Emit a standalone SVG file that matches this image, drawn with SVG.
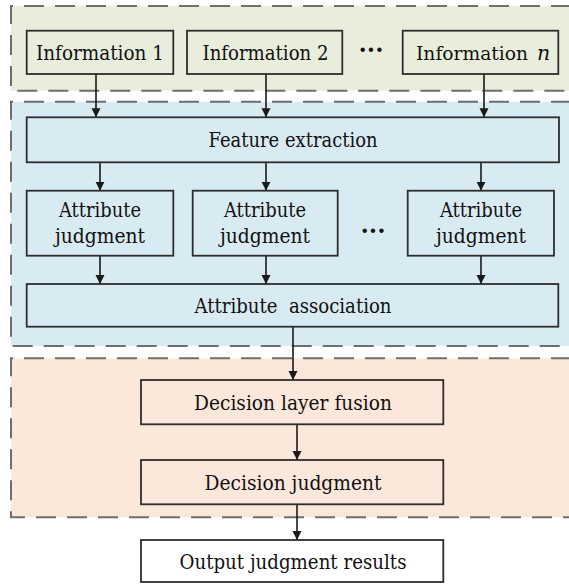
<svg xmlns="http://www.w3.org/2000/svg" width="569" height="584" viewBox="0 0 569 584">
  <defs>
    <marker id="arrow" markerUnits="userSpaceOnUse" markerWidth="9" markerHeight="10" viewBox="0 0 9 10" refX="9" refY="5" orient="auto">
      <path d="M0,0.5 L9,5 L0,9.5 Z" fill="#1a1a1a"/>
    </marker>
  </defs>
  <style>
    .zone-border { fill: none; stroke: #6e6e6e; stroke-width: 2; stroke-dasharray: 20 11; }
    .box { stroke: #2e2e2e; stroke-width: 1.8; }
    .green { fill: #e9eddb; }
    .blue { fill: #d9ebf2; }
    .orange { fill: #fce8db; }
    .white { fill: #ffffff; }
    text { font-family: 'DejaVu Serif', 'Liberation Serif', serif; }
    .label { font-size: 20.5px; fill: #111111; text-anchor: middle; }
    .dots { font-size: 24px; font-weight: bold; fill: #111111; text-anchor: middle; }
    .conn { fill: none; stroke: #1a1a1a; stroke-width: 1.6; marker-end: url(#arrow); }
  </style>

  <!-- Background zones -->
  <g id="zone-input">
    <rect x="11" y="6" width="560" height="84.7" class="green"/>
    <path d="M571,6 H11 V90.7 H571" class="zone-border"/>
  </g>
  <g id="zone-feature">
    <rect x="11" y="101.7" width="560" height="244.3" class="blue"/>
    <path d="M571,101.7 H11 V346 H571" class="zone-border"/>
  </g>
  <g id="zone-decision">
    <rect x="11" y="358.3" width="560" height="159" class="orange"/>
    <path d="M571,358.3 H11 V517.3 H571" class="zone-border"/>
  </g>

  <!-- Connectors -->
  <g id="connectors">
    <line x1="96" y1="74" x2="96" y2="117.3" class="conn"/>
    <line x1="266" y1="74" x2="266" y2="117.3" class="conn"/>
    <line x1="484" y1="74" x2="484" y2="117.3" class="conn"/>
    <line x1="100" y1="162.3" x2="100" y2="190.7" class="conn"/>
    <line x1="266" y1="162.3" x2="266" y2="190.7" class="conn"/>
    <line x1="481" y1="162.3" x2="481" y2="190.7" class="conn"/>
    <line x1="100" y1="255.7" x2="100" y2="284" class="conn"/>
    <line x1="266" y1="255.7" x2="266" y2="284" class="conn"/>
    <line x1="481" y1="255.7" x2="481" y2="284" class="conn"/>
    <line x1="293" y1="326.7" x2="293" y2="380" class="conn"/>
    <line x1="297" y1="424.3" x2="297" y2="460" class="conn"/>
    <line x1="297" y1="504.3" x2="297" y2="540" class="conn"/>
  </g>

  <!-- Input sources -->
  <g id="info-1">
    <rect x="26.7" y="30.7" width="146.6" height="43.3" class="box green"/>
    <text x="100" y="60" class="label" textLength="128" lengthAdjust="spacingAndGlyphs">Information 1</text>
  </g>
  <g id="info-2">
    <rect x="187" y="30.7" width="155.3" height="43.3" class="box green"/>
    <text x="265.5" y="60" class="label" textLength="126" lengthAdjust="spacingAndGlyphs">Information 2</text>
  </g>
  <g id="info-dots">
    <text x="371" y="58" class="dots">···</text>
  </g>
  <g id="info-n">
    <rect x="402.7" y="30.7" width="155.6" height="43.3" class="box green"/>
    <text x="416" y="60" class="label" style="text-anchor:start; font-size:18.6px" textLength="112" lengthAdjust="spacingAndGlyphs">Information</text>
    <text x="537" y="60" class="label" style="text-anchor:start" font-style="italic">n</text>
  </g>

  <!-- Feature layer -->
  <g id="feature-extraction">
    <rect x="26.7" y="117.3" width="532.3" height="45" class="box blue"/>
    <text x="293" y="147.4" class="label" textLength="169" lengthAdjust="spacingAndGlyphs">Feature extraction</text>
  </g>
  <g id="attr-judgment-1">
    <rect x="26.7" y="190.7" width="146.6" height="65" class="box blue"/>
    <text x="100" y="216.7" class="label" textLength="82" lengthAdjust="spacingAndGlyphs">Attribute</text>
    <text x="100" y="243.3" class="label" textLength="90" lengthAdjust="spacingAndGlyphs">judgment</text>
  </g>
  <g id="attr-judgment-2">
    <rect x="192.7" y="190.7" width="145" height="65" class="box blue"/>
    <text x="265" y="216.7" class="label" textLength="82" lengthAdjust="spacingAndGlyphs">Attribute</text>
    <text x="265" y="243.3" class="label" textLength="90" lengthAdjust="spacingAndGlyphs">judgment</text>
  </g>
  <g id="attr-dots">
    <text x="373" y="238.5" class="dots">···</text>
  </g>
  <g id="attr-judgment-n">
    <rect x="407.7" y="190.7" width="146.3" height="65" class="box blue"/>
    <text x="481" y="216.7" class="label" textLength="82" lengthAdjust="spacingAndGlyphs">Attribute</text>
    <text x="481" y="243.3" class="label" textLength="90" lengthAdjust="spacingAndGlyphs">judgment</text>
  </g>
  <g id="attr-association">
    <rect x="26.7" y="284" width="531.6" height="42.7" class="box blue"/>
    <text x="293" y="313" class="label" xml:space="preserve" textLength="197" lengthAdjust="spacingAndGlyphs">Attribute  association</text>
  </g>

  <!-- Decision layer -->
  <g id="decision-fusion">
    <rect x="141" y="380" width="302.3" height="44.3" class="box orange"/>
    <text x="293" y="409.8" class="label" textLength="198" lengthAdjust="spacingAndGlyphs">Decision layer fusion</text>
  </g>
  <g id="decision-judgment">
    <rect x="141" y="460" width="302.3" height="44.3" class="box orange"/>
    <text x="293" y="489.8" class="label" textLength="177" lengthAdjust="spacingAndGlyphs">Decision judgment</text>
  </g>
  <g id="output-results">
    <rect x="141" y="540" width="302.3" height="42" class="box white"/>
    <text x="293" y="568.8" class="label" textLength="227" lengthAdjust="spacingAndGlyphs">Output judgment results</text>
  </g>
</svg>
